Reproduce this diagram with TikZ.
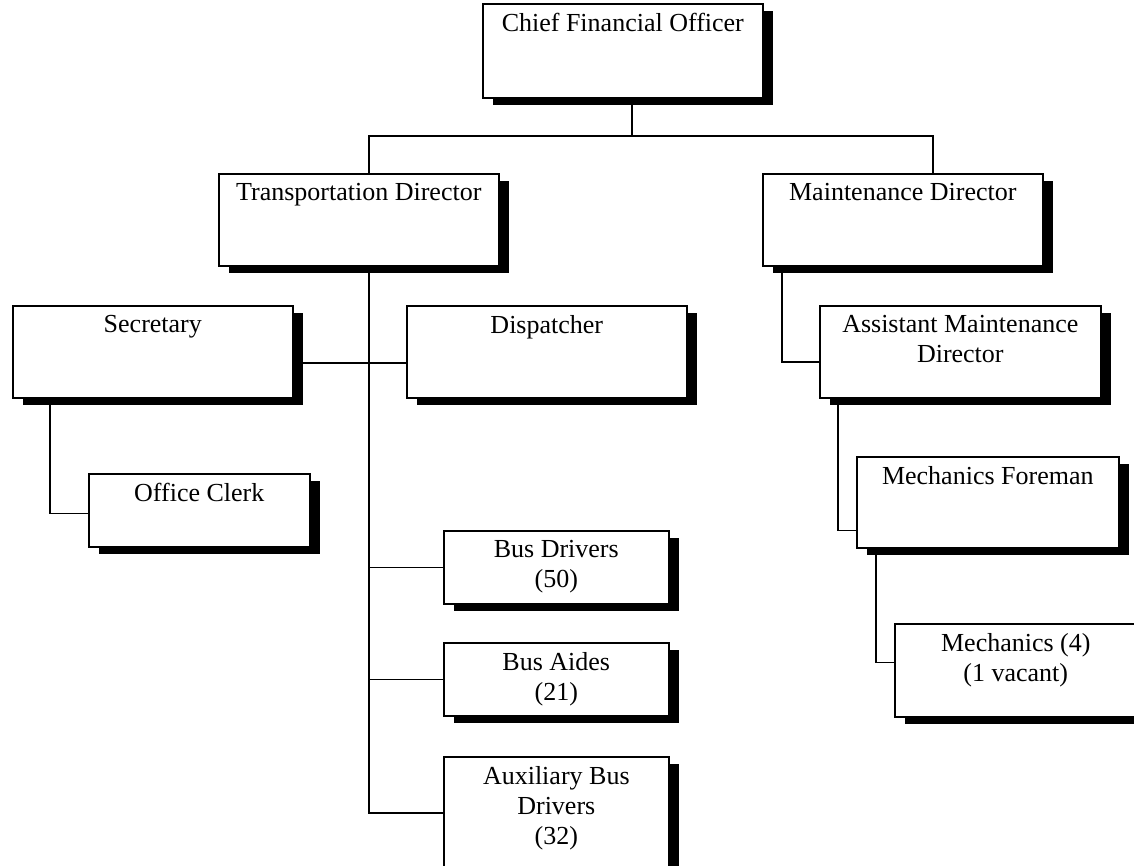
\documentclass[tikz,border=0pt]{standalone}
\usepackage{fontspec}
\setmainfont{Liberation Serif}
\usetikzlibrary{shadows}
\tikzset{
  post/.style={
    draw,
    line width=1.6pt,
    fill=white,
    anchor=north west,
    inner sep=0pt,
    drop shadow={shadow xshift=10pt, shadow yshift=-7pt, opacity=1, fill=black},
  },
  postlabel/.style={
    anchor=north,
    inner sep=0pt,
    yshift=-10pt,
    align=center,
    font=\fontsize{26}{30}\selectfont,
  },
  link/.style={
    line width=1.6pt,
  }
}
\newcommand{\post}[6]{%
  \node[post, minimum width=#4pt, minimum height=#5pt,
    label={[postlabel]north:{#6}}] (#1) at (#2,#3) {};
}

\begin{document}
\begin{tikzpicture}[x=1pt, y=-1pt]
\useasboundingbox (0,0) rectangle (1134,865);

\post{cfo}{482}{3}{280}{94}{Chief Financial Officer}
\post{td}{218}{173}{280}{92}{Transportation Director}
\post{md}{762}{173}{280}{92}{Maintenance Director}

\post{sec}{12}{305}{280}{92}{Secretary}
\post{disp}{406}{305}{280}{92}{Dispatcher}
\post{clerk}{88}{473}{221}{73}{Office Clerk}

\post{bd}{443}{530}{225}{73}{Bus Drivers\\(50)}
\post{ba}{443}{642}{225}{73}{Bus Aides\\(21)}
\post{aux}{443}{756}{225}{112}{Auxiliary Bus\\Drivers\\(32)}

\post{amd}{819}{305}{281}{92}{Assistant Maintenance\\Director}
\post{mf}{856}{456}{262}{91}{Mechanics Foreman}
\post{mech}{894}{623}{242}{93}{Mechanics (4)\\(1 vacant)}

% top bar
\coordinate (bar) at (632,136);
\draw[link] (bar |- cfo.south) -- (bar);
\draw[link] ([xshift=10pt]td.north) |- (bar) -| ([xshift=30pt]md.north);

% transportation side
\coordinate (trunk) at ([xshift=10pt]td.south);
\draw[link] (trunk) |- (aux.west);
\draw[link] (trunk |- bd.west) -- (bd.west);
\draw[link] (trunk |- ba.west) -- (ba.west);
\draw[link] ([yshift=-11pt]sec.east) -- ([yshift=-11pt]disp.west);
\draw[link] ([xshift=38pt]sec.south west) |- ([yshift=-3pt]clerk.west);

% maintenance side
\draw[link] ([xshift=20pt]md.south west) |- ([yshift=-10pt]amd.west);
\draw[link] ([xshift=19pt]amd.south west) |- ([yshift=-28pt]mf.west);
\draw[link] ([xshift=20pt]mf.south west) |- ([yshift=8pt]mech.west);

\end{tikzpicture}
\end{document}
